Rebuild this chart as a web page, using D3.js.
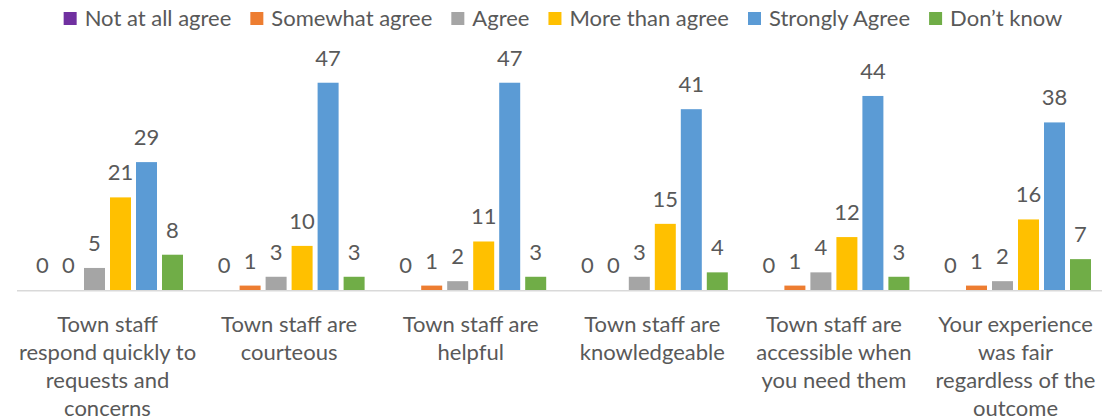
<!DOCTYPE html>
<html>
<head>
<meta charset="utf-8">
<script src="https://cdn.jsdelivr.net/npm/d3@7"></script>
<style>
  html, body { margin: 0; padding: 0; background: #fff; }
  svg { display: block; }
  text { font-family: Lato, "Open Sans", sans-serif; fill: #595959; }
</style>
</head>
<body>
<svg id="chart" width="1102" height="420"></svg>
<script>
const categories = [
  "Town staff\nrespond quickly to\nrequests and\nconcerns",
  "Town staff are\ncourteous",
  "Town staff are\nhelpful",
  "Town staff are\nknowledgeable",
  "Town staff are\naccessible when\nyou need them",
  "Your experience\nwas fair\nregardless of the\noutcome"
];
const seriesNames = ["Not at all agree", "Somewhat agree", "Agree", "More than agree", "Strongly Agree", "Don\u2019t know"];
const seriesColors = ["#7030A0", "#ED7D31", "#A5A5A5", "#FFC000", "#5B9BD5", "#70AD47"];
const notAtAllAgree  = [0, 0, 0, 0, 0, 0];
const somewhatAgree  = [0, 1, 1, 0, 1, 1];
const agree          = [5, 3, 2, 3, 4, 2];
const moreThanAgree  = [21, 10, 11, 15, 12, 16];
const stronglyAgree  = [29, 47, 47, 41, 44, 38];
const dontKnow       = [8, 3, 3, 4, 3, 7];
const seriesValues = [notAtAllAgree, somewhatAgree, agree, moreThanAgree, stronglyAgree, dontKnow];

const svg = d3.select("#chart");
const fontSize = 22;

const x0 = d3.scaleBand().domain(d3.range(categories.length)).range([16.7, 1106.3]).padding(0);
const x1 = d3.scaleBand().domain(d3.range(seriesNames.length))
  .range([10.3, x0.bandwidth() - 10.3]).paddingInner(0.1923).paddingOuter(0.1923);
const y = d3.scaleLinear().domain([0, 50]).range([290, 69.5]);

// bars
const groups = svg.append("g").selectAll("g")
  .data(categories.map((c, i) => ({ i, vals: seriesValues.map(s => s[i]) })))
  .join("g")
  .attr("transform", d => `translate(${x0(d.i)},0)`);

groups.selectAll("rect")
  .data(d => d.vals.map((v, s) => ({ v, s })))
  .join("rect")
  .attr("x", d => x1(d.s))
  .attr("width", x1.bandwidth())
  .attr("y", d => y(d.v))
  .attr("height", d => y(0) - y(d.v))
  .attr("fill", d => seriesColors[d.s]);

groups.selectAll("text.val")
  .data(d => d.vals.map((v, s) => ({ v, s })))
  .join("text")
  .attr("class", "val")
  .attr("x", d => x1(d.s) + x1.bandwidth() / 2)
  .attr("y", d => y(d.v) - 17)
  .attr("text-anchor", "middle")
  .attr("font-size", fontSize)
  .text(d => d.v);

// axis line
svg.append("line")
  .attr("x1", 17).attr("x2", 1102)
  .attr("y1", y(0) + 0.75).attr("y2", y(0) + 0.75)
  .attr("stroke", "#D9D9D9").attr("stroke-width", 1.5);

// category labels
const catLabels = svg.append("g").selectAll("text")
  .data(categories)
  .join("text")
  .attr("text-anchor", "middle")
  .attr("font-size", fontSize)
  .attr("x", (d, i) => x0(i) + x0.bandwidth() / 2)
  .attr("y", 331.5);
catLabels.each(function(d, i) {
  const t = d3.select(this);
  d.split("\n").forEach((line, k) => {
    t.append("tspan")
      .attr("x", x0(i) + x0.bandwidth() / 2)
      .attr("y", 331.5 + k * 28)
      .text(line);
  });
});

// legend
const legend = svg.append("g");
const items = legend.selectAll("g").data(seriesNames).join("g");
items.append("rect")
  .attr("width", 13).attr("height", 13)
  .attr("y", 12)
  .attr("fill", (d, i) => seriesColors[i]);
items.append("text")
  .attr("x", 21).attr("y", 25.5)
  .attr("font-size", fontSize)
  .text(d => d);
let cx = 0;
items.each(function() {
  const w = this.getBBox().width;
  d3.select(this).attr("transform", `translate(${cx},0)`);
  cx += w + 19;
});
const total = cx - 19;
legend.attr("transform", `translate(${563 - total / 2},0)`);
</script>
</body>
</html>
